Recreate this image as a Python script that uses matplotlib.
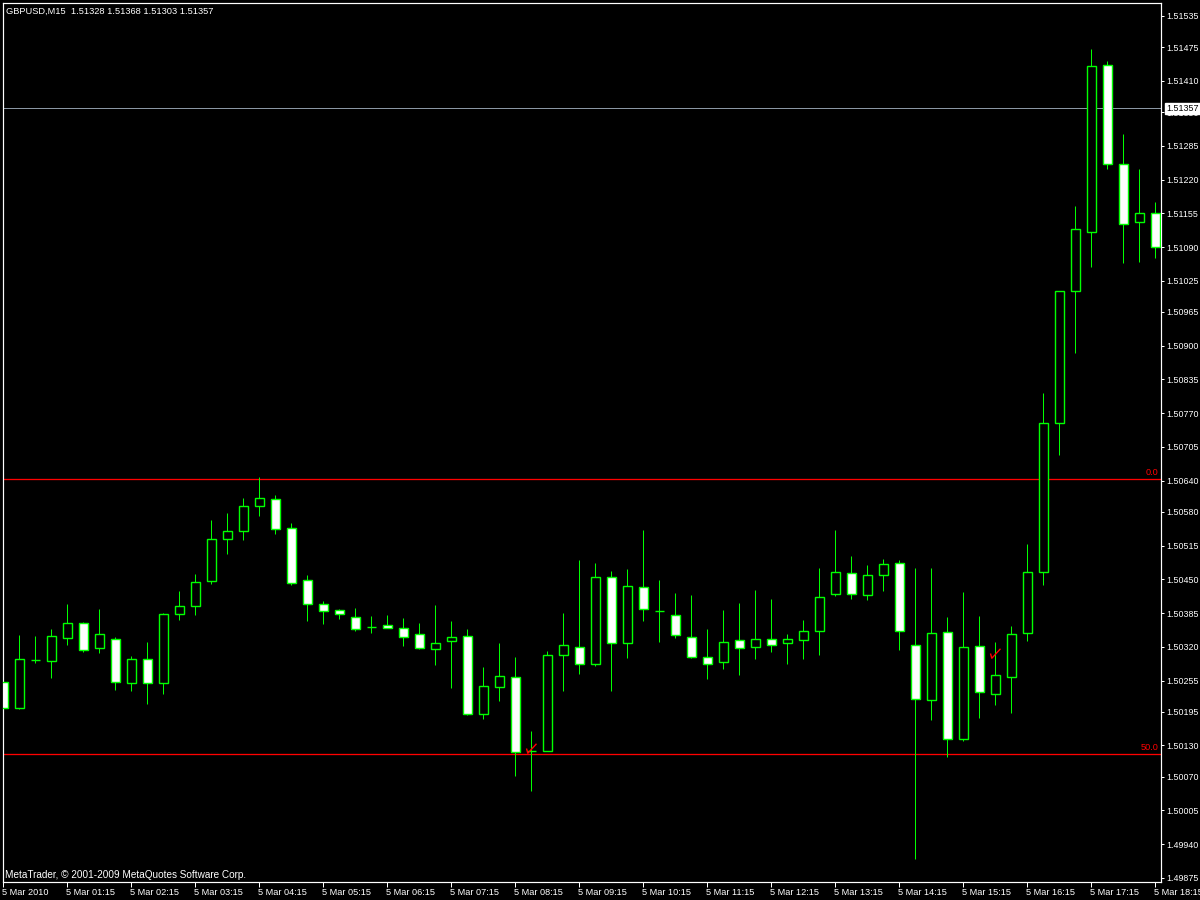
import matplotlib
matplotlib.use('Agg')
import matplotlib.pyplot as plt
from matplotlib.patches import Rectangle
from matplotlib.path import Path
import matplotlib.transforms as mtransforms

plt.rcParams['font.family'] = ['Liberation Sans', 'DejaVu Sans']

# ---------------- data (GBPUSD M15, 5 Mar 2010) ----------------
opens = [1.50253, 1.50203, 1.50294, 1.50293, 1.50337, 1.50365, 1.50317, 1.50336, 1.50250, 1.50297,
         1.50250, 1.50384, 1.50398, 1.50446, 1.50527, 1.50544, 1.50592, 1.50604, 1.50548, 1.50448,
         1.50402, 1.50390, 1.50377, 1.50358, 1.50362, 1.50357, 1.50344, 1.50315, 1.50332, 1.50340,
         1.50191, 1.50243, 1.50261, 1.50119, 1.50120, 1.50305, 1.50319, 1.50286, 1.50454, 1.50327,
         1.50436, 1.50389, 1.50382, 1.50338, 1.50300, 1.50290, 1.50334, 1.50319, 1.50336, 1.50327,
         1.50334, 1.50350, 1.50421, 1.50463, 1.50419, 1.50458, 1.50481, 1.50323, 1.50218, 1.50348,
         1.50143, 1.50321, 1.50230, 1.50262, 1.50346, 1.50465, 1.50751, 1.51005, 1.51118, 1.51440,
         1.51249, 1.51139, 1.51155]
highs = [1.50306, 1.50343, 1.50341, 1.50354, 1.50402, 1.50367, 1.50393, 1.50339, 1.50302, 1.50329,
         1.50386, 1.50427, 1.50460, 1.50564, 1.50578, 1.50607, 1.50647, 1.50612, 1.50558, 1.50458,
         1.50408, 1.50393, 1.50395, 1.50379, 1.50381, 1.50375, 1.50366, 1.50400, 1.50370, 1.50354,
         1.50281, 1.50327, 1.50300, 1.50158, 1.50312, 1.50385, 1.50487, 1.50481, 1.50466, 1.50469,
         1.50545, 1.50449, 1.50424, 1.50420, 1.50354, 1.50391, 1.50404, 1.50429, 1.50412, 1.50345,
         1.50371, 1.50472, 1.50545, 1.50495, 1.50477, 1.50490, 1.50487, 1.50472, 1.50472, 1.50377,
         1.50425, 1.50379, 1.50329, 1.50360, 1.50518, 1.50809, 1.51006, 1.51169, 1.51471, 1.51448,
         1.51308, 1.51240, 1.51177]
lows = [1.50187, 1.50200, 1.50289, 1.50260, 1.50323, 1.50310, 1.50308, 1.50237, 1.50235, 1.50210,
        1.50230, 1.50372, 1.50382, 1.50441, 1.50499, 1.50526, 1.50572, 1.50538, 1.50440, 1.50370,
        1.50364, 1.50373, 1.50350, 1.50347, 1.50356, 1.50321, 1.50316, 1.50285, 1.50241, 1.50188,
        1.50181, 1.50216, 1.50072, 1.50043, 1.50119, 1.50235, 1.50267, 1.50283, 1.50235, 1.50299,
        1.50370, 1.50330, 1.50337, 1.50299, 1.50258, 1.50278, 1.50266, 1.50297, 1.50310, 1.50287,
        1.50297, 1.50305, 1.50418, 1.50413, 1.50411, 1.50428, 1.50314, 1.49912, 1.50179, 1.50108,
        1.50139, 1.50183, 1.50208, 1.50193, 1.50332, 1.50440, 1.50690, 1.50885, 1.51052, 1.51241,
        1.51059, 1.51061, 1.51068]
closes = [1.50203, 1.50296, 1.50294, 1.50340, 1.50365, 1.50313, 1.50344, 1.50253, 1.50296, 1.50250,
          1.50384, 1.50398, 1.50444, 1.50527, 1.50544, 1.50592, 1.50606, 1.50546, 1.50442, 1.50402,
          1.50389, 1.50384, 1.50355, 1.50358, 1.50357, 1.50338, 1.50317, 1.50327, 1.50338, 1.50191,
          1.50244, 1.50263, 1.50117, 1.50119, 1.50305, 1.50323, 1.50286, 1.50454, 1.50327, 1.50438,
          1.50392, 1.50389, 1.50342, 1.50300, 1.50286, 1.50330, 1.50317, 1.50336, 1.50323, 1.50336,
          1.50350, 1.50415, 1.50465, 1.50421, 1.50458, 1.50479, 1.50350, 1.50220, 1.50346, 1.50143,
          1.50319, 1.50233, 1.50265, 1.50344, 1.50465, 1.50752, 1.51005, 1.51124, 1.51438, 1.51249,
          1.51135, 1.51155, 1.51090]

time_tick_pos = [0, 4, 8, 12, 16, 20, 24, 28, 32, 36, 40, 44, 48, 52, 56, 60, 64, 68, 72]
time_tick_labels = ['5 Mar 2010', '5 Mar 01:15', '5 Mar 02:15', '5 Mar 03:15', '5 Mar 04:15',
                    '5 Mar 05:15', '5 Mar 06:15', '5 Mar 07:15', '5 Mar 08:15', '5 Mar 09:15',
                    '5 Mar 10:15', '5 Mar 11:15', '5 Mar 12:15', '5 Mar 13:15', '5 Mar 14:15',
                    '5 Mar 15:15', '5 Mar 16:15', '5 Mar 17:15', '5 Mar 18:15']
price_ticks = [1.51535, 1.51475, 1.51410, 1.51350, 1.51285, 1.51220, 1.51155, 1.51090, 1.51025,
               1.50965, 1.50900, 1.50835, 1.50770, 1.50705, 1.50640, 1.50580, 1.50515, 1.50450,
               1.50385, 1.50320, 1.50255, 1.50195, 1.50130, 1.50070, 1.50005, 1.49940, 1.49875]
price_tick_labels = ['%.5f' % v for v in price_ticks]

fib_levels = [1.50643, 1.50114]
fib_labels = ['0.0', '50.0']
bid_price = 1.51357
header = 'GBPUSD,M15  1.51328 1.51368 1.51303 1.51357'
copyright_text = 'MetaTrader, \u00a9 2001-2009 MetaQuotes Software Corp.'
trade_bars = [33, 62]
trade_prices = [1.50125, 1.50309]

# ---------------- figure ----------------
W, H = 1200, 900
fig = plt.figure(figsize=(12, 9), dpi=100, facecolor='black')
ax = fig.add_axes([2.5 / W, 18 / H, (1160.5 - 2.5) / W, (882 - 2.5) / H])
ax.set_facecolor('black')
ax.set_xlim(-0.05, 72.325)
ax.set_ylim(1.49867, 1.51561)

LIME = '#00ff00'
px = 0.72  # 1 pixel in points
body_w = 0.56

for k, (o, h, l, c) in enumerate(zip(opens, highs, lows, closes)):
    ax.vlines(k, l, h, color=LIME, lw=px, zorder=2)
    if c == o:
        ax.hlines(o, k - body_w / 2, k + body_w / 2, color=LIME, lw=1.4 * px, zorder=3)
    else:
        face = 'black' if c > o else 'white'
        ax.add_patch(Rectangle((k - body_w / 2, min(o, c)), body_w, abs(c - o),
                               facecolor=face, edgecolor=LIME, lw=1.4 * px, zorder=3))

# bid line
ax.axhline(bid_price, color='#8a96a3', lw=px, zorder=1)

# fibonacci levels
ytrans = mtransforms.blended_transform_factory(ax.transAxes, ax.transData)
for lev, lab in zip(fib_levels, fib_labels):
    ax.axhline(lev, color='#ff0000', lw=1.3 * px, zorder=1.5)
    ax.text(0.9985, lev, lab, transform=ytrans + mtransforms.ScaledTranslation(0, 2 / 100, fig.dpi_scale_trans),
            ha='right', va='bottom', color='#ff0000', fontsize=6.6)

# trade arrows (check marks)
check = Path([(-1.0, 0.0), (-0.74, -0.95), (1.0, 0.95)], [Path.MOVETO, Path.LINETO, Path.LINETO])
ax.plot(trade_bars, trade_prices, linestyle='none', marker=check, markersize=7.2,
        markerfacecolor='none', markeredgecolor='#ff0000', markeredgewidth=1.0, zorder=5)

# spines
for s in ax.spines.values():
    s.set_color('white')
    s.set_linewidth(1.2 * px)

# y axis on the right
ax.yaxis.tick_right()
ax.set_yticks(price_ticks)
ax.set_yticklabels(price_tick_labels)
ax.tick_params(axis='y', colors='white', length=2.4, width=px, pad=2.0, labelsize=6.4,
               labelcolor='white', left=False, right=True)

# x axis
ax.set_xticks(time_tick_pos)
ax.set_xticklabels(time_tick_labels)
ax.tick_params(axis='x', colors='white', length=3.8, width=px, pad=0.5, labelsize=6.6,
               labelcolor='white')
offset = mtransforms.ScaledTranslation(-1 / 100, 0, fig.dpi_scale_trans)
for lbl in ax.get_xticklabels():
    lbl.set_horizontalalignment('left')
    lbl.set_transform(lbl.get_transform() + offset)

# bid price label box (covers the 1.51350 tick label, as in MetaTrader)
ax.text(1.0, bid_price, '1.51357', transform=ytrans + mtransforms.ScaledTranslation(5.5 / 100, 0, fig.dpi_scale_trans),
        ha='left', va='center', color='black', fontsize=6.4, clip_on=False, zorder=10,
        bbox=dict(boxstyle='square,pad=0.15', facecolor='white', edgecolor='white'))

# header and copyright
fig.text(6.5 / W, 1 - 11 / H, header, color='white', fontsize=6.7, ha='left', va='center')
fig.text(5 / W, 1 - 875 / H, copyright_text, color='white', fontsize=7.2, ha='left', va='center')

fig.savefig('out.png', dpi=100, facecolor='black')
